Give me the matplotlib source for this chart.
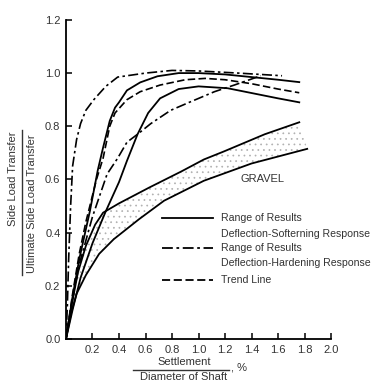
import matplotlib
matplotlib.use('Agg')
import matplotlib.pyplot as plt
import numpy as np

# Side load transfer vs settlement/diameter (gravel)
soft_upper_x = [0, 0.05, 0.1, 0.18, 0.24, 0.28, 0.33, 0.37, 0.40, 0.46, 0.56, 0.69, 0.85, 1.0, 1.2, 1.4, 1.6, 1.76]
soft_upper_y = [0, 0.16, 0.3, 0.48, 0.635, 0.72, 0.82, 0.87, 0.89, 0.935, 0.965, 0.988, 1.0, 1.0, 0.995, 0.985, 0.975, 0.966]

soft_lower_x = [0, 0.05, 0.11, 0.2, 0.30, 0.40, 0.46, 0.54, 0.62, 0.71, 0.85, 1.0, 1.22, 1.4, 1.6, 1.76]
soft_lower_y = [0, 0.11, 0.23, 0.36, 0.48, 0.59, 0.67, 0.77, 0.85, 0.905, 0.94, 0.95, 0.943, 0.925, 0.905, 0.89]

hard_upper_x = [0, 0.01, 0.02, 0.035, 0.05, 0.08, 0.11, 0.15, 0.21, 0.3, 0.39, 0.6, 0.8, 1.0, 1.3, 1.63]
hard_upper_y = [0, 0.12, 0.3, 0.5, 0.65, 0.75, 0.81, 0.86, 0.90, 0.95, 0.985, 1.0, 1.01, 1.008, 1.0, 0.99]

hard_lower_x = [0, 0.05, 0.1, 0.2, 0.31, 0.39, 0.46, 0.54, 0.64, 0.79, 0.93, 1.12, 1.27, 1.47]
hard_lower_y = [0, 0.15, 0.28, 0.46, 0.62, 0.68, 0.74, 0.77, 0.81, 0.86, 0.89, 0.93, 0.955, 0.99]

trend_x = [0, 0.05, 0.1, 0.15, 0.23, 0.28, 0.33, 0.37, 0.46, 0.56, 0.71, 0.9, 1.05, 1.2, 1.4, 1.6, 1.76]
trend_y = [0, 0.17, 0.32, 0.44, 0.60, 0.68, 0.80, 0.85, 0.90, 0.93, 0.955, 0.975, 0.98, 0.975, 0.96, 0.94, 0.926]

gravel_upper_x = [0, 0.04, 0.09, 0.15, 0.22, 0.28, 0.4, 0.63, 0.87, 1.04, 1.19, 1.5, 1.76]
gravel_upper_y = [0, 0.12, 0.25, 0.35, 0.43, 0.475, 0.51, 0.57, 0.63, 0.675, 0.705, 0.77, 0.815]

gravel_lower_x = [0, 0.04, 0.08, 0.15, 0.25, 0.36, 0.55, 0.74, 1.04, 1.4, 1.82]
gravel_lower_y = [0, 0.1, 0.17, 0.24, 0.32, 0.375, 0.45, 0.52, 0.595, 0.66, 0.715]

x_ticks = [0.2, 0.4, 0.6, 0.8, 1.0, 1.2, 1.4, 1.6, 1.8, 2.0]
y_ticks = [0.0, 0.2, 0.4, 0.6, 0.8, 1.0, 1.2]

TXT = '#333333'
plt.rcParams['font.family'] = ['Liberation Sans', 'DejaVu Sans']
plt.rcParams['hatch.linewidth'] = 0.5
plt.rcParams['hatch.color'] = '#b0b0b0'

DASHDOT = (0, (6, 2, 1.5, 2))
DASHED = (0, (4.5, 2))

fig = plt.figure(figsize=(3.76, 3.83), dpi=100)
ax = fig.add_axes([0.1755, 0.115, 0.705, 0.833])

# stippled gravel band
ax.fill(np.r_[gravel_upper_x, gravel_lower_x[::-1]],
        np.r_[gravel_upper_y, gravel_lower_y[::-1]],
        facecolor='none', hatch='...', linewidth=0)
ax.plot(gravel_upper_x, gravel_upper_y, color='black', lw=1.3)
ax.plot(gravel_lower_x, gravel_lower_y, color='black', lw=1.3)

ax.plot(soft_upper_x, soft_upper_y, color='black', lw=1.3)
ax.plot(soft_lower_x, soft_lower_y, color='black', lw=1.3)
ax.plot(hard_upper_x, hard_upper_y, color='black', lw=1.2, linestyle=DASHDOT)
ax.plot(hard_lower_x, hard_lower_y, color='black', lw=1.2, linestyle=DASHDOT)
ax.plot(trend_x, trend_y, color='black', lw=1.2, linestyle=DASHED)

ax.text(0.74, 0.50, 'GRAVEL', transform=ax.transAxes, ha='center', va='center',
        fontsize=8, color=TXT)

# hand-drawn legend
legend_rows = [
    ('-', 0.379, 'Range of Results'),
    (DASHDOT, 0.285, 'Range of Results'),
    (DASHED, 0.185, 'Trend Line'),
]
for ls, yy, label in legend_rows:
    ax.plot([0.362, 0.555], [yy, yy], transform=ax.transAxes, color='black',
            lw=1.3, linestyle=ls, clip_on=False)
    ax.text(0.585, yy, label, transform=ax.transAxes, va='center',
            fontsize=7.6, color=TXT)
ax.text(0.585, 0.329, 'Deflection-Softerning Response', transform=ax.transAxes,
        va='center', fontsize=7.6, color=TXT, clip_on=False)
ax.text(0.585, 0.238, 'Deflection-Hardening Response', transform=ax.transAxes,
        va='center', fontsize=7.6, color=TXT, clip_on=False)

ax.set_xlim(0, 2.0)
ax.set_ylim(0, 1.2)
ax.set_xticks(x_ticks)
ax.set_xticklabels([f'{v:.1f}' for v in x_ticks])
ax.set_yticks(y_ticks)
ax.set_yticklabels([f'{v:.1f}' for v in y_ticks])
ax.tick_params(direction='in', length=4, width=1.1, labelsize=8,
               labelcolor=TXT, pad=4)
for side in ['top', 'right']:
    ax.spines[side].set_visible(False)
for side in ['left', 'bottom']:
    ax.spines[side].set_linewidth(1.3)

# fraction-style axis labels
fig.text(13 / 376, 1 - 179 / 383, 'Side Load Transfer', rotation=90,
         ha='center', va='center', fontsize=8, color=TXT)
fig.text(32 / 376, 1 - 204 / 383, 'Ultimate Side Load Transfer', rotation=90,
         ha='center', va='center', fontsize=8, color=TXT)
fig.add_artist(plt.Line2D([22 / 376, 22 / 376], [1 - 130 / 383, 1 - 275 / 383],
                          color=TXT, lw=1.0))

fig.text(184 / 376, 1 - 362 / 383, 'Settlement', ha='center', va='center',
         fontsize=8, color=TXT)
fig.text(184 / 376, 1 - 377.5 / 383, 'Diameter of Shaft', ha='center', va='center',
         fontsize=8, color=TXT)
fig.add_artist(plt.Line2D([133 / 376, 229 / 376], [1 - 370 / 383, 1 - 370 / 383],
                          color=TXT, lw=1.0))
fig.text(231 / 376, 1 - 368 / 383, ', %', ha='left', va='center',
         fontsize=8, color=TXT)

fig.savefig('out.png', dpi=100)
